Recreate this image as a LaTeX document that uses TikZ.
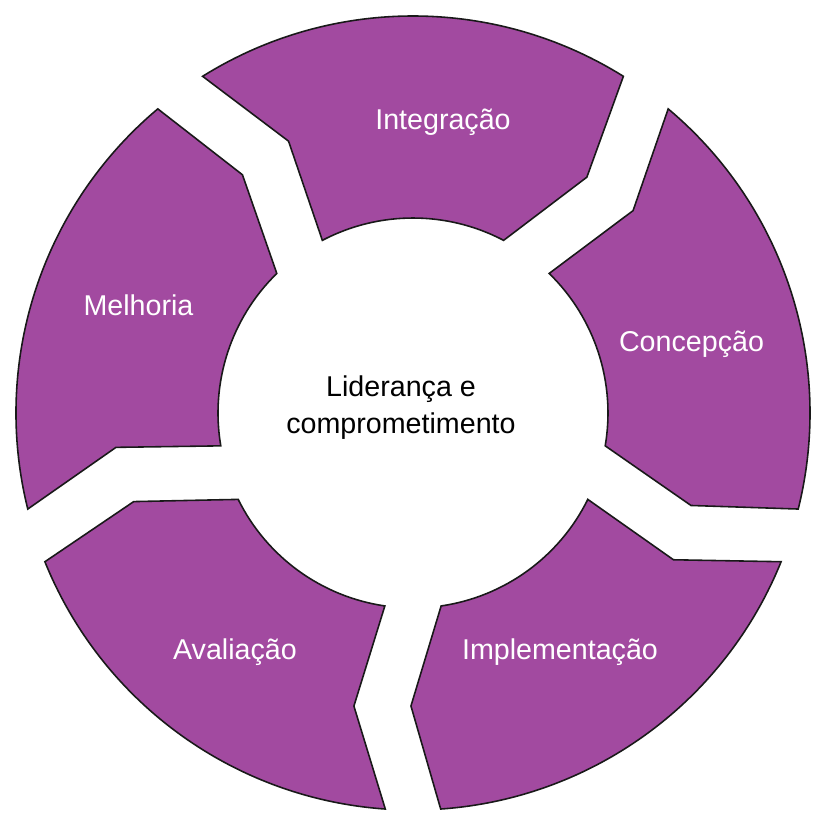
\documentclass[tikz,border=0pt]{standalone}
\usepackage{fontspec}
\setmainfont{Liberation Sans}
\usetikzlibrary{positioning}
\definecolor{segpurple}{RGB}{162,74,160}
\tikzset{
	ringseg/.style={draw=black!90, line width=0.9pt, fill=segpurple, line join=miter},
	seglabel/.style={anchor=base, text=white, inner sep=0pt, font=\fontsize{16.3}{20}\selectfont},
	centre/.style={align=center, text=black, inner sep=0pt, font=\fontsize{16.3}{20.8}\selectfont},
}
% one piece of the ring, centred on angle #1
\newcommand{\ringpiece}[1]{%
	\draw[ringseg] (#1+32:7.94) arc[start angle=#1+32, end angle=#1-32, radius=7.94]
		-- (#1-36.4:5.86) -- (#1-27.7:3.9)
		arc[start angle=#1-27.7, end angle=#1+27.7, radius=3.9]
		-- (#1+24.6:5.98) -- cycle;
}
\begin{document}
\begin{tikzpicture}
		\fill[white] (-8.26,-8.28) rectangle (8.54,8.26);
		\useasboundingbox (-8.26,-8.28) rectangle (8.54,8.26);
		
		\ringpiece{90}
		\ringpiece{18}
		\ringpiece{-54}
		\ringpiece{-126}
		\ringpiece{162}
		
		\node (int) [seglabel] at (0.6,5.67) {Integração};
		\node (conc) [seglabel] at (5.57,1.23) {Concepção};
		\node (impl) [seglabel] at (2.94,-4.92) {Implementação};
		\node (aval) [seglabel] at (-3.56,-4.92) {Avaliação};
		\node (melh) [seglabel] at (-5.49,1.95) {Melhoria};
		
		\node (lid) [centre] at (-0.24,0.11) {Liderança e\\comprometimento};
	\end{tikzpicture}
\end{document}
